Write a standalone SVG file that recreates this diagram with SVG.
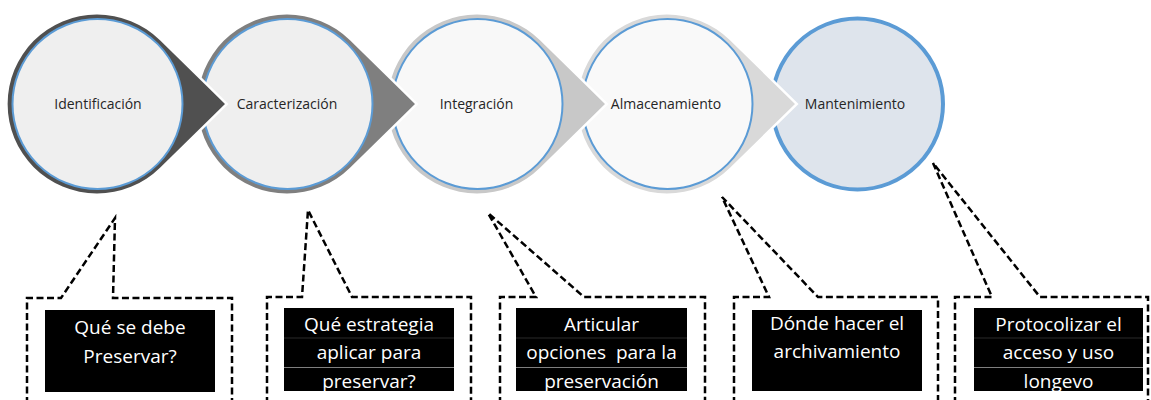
<svg xmlns="http://www.w3.org/2000/svg" xmlns:xlink="http://www.w3.org/1999/xlink" width="1151" height="400" viewBox="0 0 1151 400">
<style>
.drop{stroke:#ffffff;stroke-width:5;stroke-linejoin:miter;paint-order:stroke}
.ring{stroke:#5B9BD5;stroke-width:2}
.lbl{font-family:"Open Sans","Liberation Sans",sans-serif;font-size:14px;fill:#262626;text-anchor:middle}
.call{fill:none;stroke:#000000;stroke-width:2.5;stroke-dasharray:7 3.5}
.box{fill:#000000}
.bt{font-family:"Open Sans","Liberation Sans",sans-serif;font-size:19px;fill:#ffffff;text-anchor:middle;white-space:pre}
.sep{stroke:#7f7f7f;stroke-width:1}
.sepf{stroke:#2a2a2a;stroke-width:1}
</style>
<defs>
<path id="drop" d="M127.5,0 L62.5,-63.7 A89.5,89.5 0 1 0 62.5,63.7 Z"/>
<clipPath id="cb2"><rect x="284" y="308" width="170" height="83"/></clipPath>
<clipPath id="cb3"><rect x="516" y="308" width="171" height="83"/></clipPath>
<clipPath id="cb5"><rect x="974" y="308" width="169" height="83"/></clipPath>
</defs>
<rect width="1151" height="400" fill="#ffffff"/>

<g id="n5">
<circle cx="857.5" cy="104" r="85.5" fill="#DEE4EC" stroke="#5B9BD5" stroke-width="4"/>
<text class="lbl" x="855" y="109">Mantenimiento</text>
</g>
<g id="n4">
<use xlink:href="#drop" href="#drop" x="667.5" y="104" class="drop" fill="#D9D9D9"/>
<circle class="ring" cx="667.5" cy="104" r="85" fill="#F9F9F9"/>
<text class="lbl" x="666" y="109">Almacenamiento</text>
</g>
<g id="n3">
<use xlink:href="#drop" href="#drop" x="477.5" y="104" class="drop" fill="#C8C8C8"/>
<circle class="ring" cx="477.5" cy="104" r="85" fill="#F8F8F8"/>
<text class="lbl" x="476.5" y="109">Integración</text>
</g>
<g id="n2">
<use xlink:href="#drop" href="#drop" x="287.5" y="104" class="drop" fill="#7F7F7F"/>
<circle class="ring" cx="287.5" cy="104" r="85" fill="#EFEFEF"/>
<text class="lbl" x="287" y="109">Caracterización</text>
</g>
<g id="n1">
<use xlink:href="#drop" href="#drop" x="97.5" y="104" class="drop" fill="#505050"/>
<circle class="ring" cx="97.5" cy="104" r="85" fill="#EFEFEF"/>
<text class="lbl" x="98" y="109">Identificación</text>
</g>

<g id="connectors">
<path class="call" d="M27,404 V298 H61 L115,218 L113,298 H232 V404"/>
<path class="call" d="M267,404 V297 H302 L308,210 L352,297 H471 V404"/>
<path class="call" d="M500,404 V297 H536 L488,213 L584,297 H705 V404"/>
<path class="call" d="M734,404 V297 H769 L722,197 L818,297 H938 V404"/>
<path class="call" d="M955,404 V297 H992 L933,163 L1040,297 H1148 V404"/>
</g>

<g id="b1">
<rect class="box" x="45" y="310" width="170" height="82"/>
<text class="bt" x="130" y="334">Qué se debe</text>
<text class="bt" x="130" y="363">Preservar?</text>
</g>
<g id="b2">
<rect class="box" x="284" y="308" width="170" height="83"/>
<line class="sepf" x1="284" y1="338" x2="454" y2="338"/>
<line class="sep" x1="284" y1="367.5" x2="454" y2="367.5"/>
<g clip-path="url(#cb2)">
<text class="bt" x="369" y="331">Qué estrategia</text>
<text class="bt" x="369" y="359">aplicar para</text>
<text class="bt" x="369" y="388">preservar?</text>
</g>
</g>
<g id="b3">
<rect class="box" x="516" y="308" width="171" height="83"/>
<line class="sepf" x1="516" y1="338" x2="687" y2="338"/>
<line class="sep" x1="516" y1="367.5" x2="687" y2="367.5"/>
<g clip-path="url(#cb3)">
<text class="bt" x="601.5" y="331">Articular</text>
<text class="bt" x="601.5" y="359">opciones  para la</text>
<text class="bt" x="601.5" y="388">preservación</text>
</g>
</g>
<g id="b4">
<rect class="box" x="752" y="310" width="170" height="81"/>
<text class="bt" x="837" y="330">Dónde hacer el</text>
<text class="bt" x="837" y="358">archivamiento</text>
</g>
<g id="b5">
<rect class="box" x="974" y="308" width="169" height="83"/>
<line class="sepf" x1="974" y1="338" x2="1143" y2="338"/>
<line class="sep" x1="974" y1="367.5" x2="1143" y2="367.5"/>
<g clip-path="url(#cb5)">
<text class="bt" x="1058.5" y="331">Protocolizar el</text>
<text class="bt" x="1058.5" y="359">acceso y uso</text>
<text class="bt" x="1058.5" y="388">longevo</text>
</g>
</g>
</svg>
